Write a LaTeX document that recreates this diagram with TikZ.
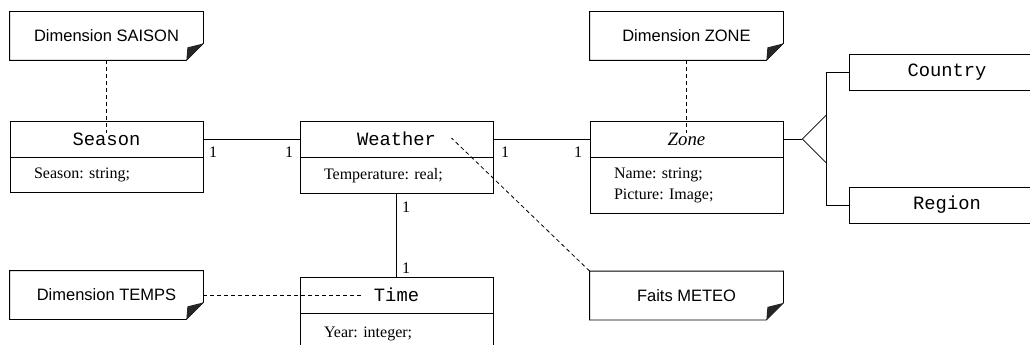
\documentclass[tikz,border=0pt]{standalone}
\usepackage{fontspec}
\setmainfont{Liberation Serif}
\newfontfamily\monof{Liberation Mono}
\newfontfamily\sansf{Liberation Sans}
\frenchspacing
\begin{document}
\begin{tikzpicture}[x=1pt,y=-1pt,
  line width=0.8pt,
  classhead/.style={draw, minimum width=193pt, minimum height=36pt, inner sep=0pt,
    font=\monof\fontsize{18.8}{22}\selectfont},
  classbody/.style={draw, text width=145pt, inner xsep=24pt, inner ysep=0pt, align=left,
    font=\frenchspacing\fontsize{16}{21}\selectfont},
  notebox/.style={minimum width=193pt, minimum height=48pt, inner sep=0pt,
    font=\sansf\fontsize{16.5}{20}\selectfont},
  lbl/.style={inner sep=0pt, font=\fontsize{16}{18}\selectfont},
  dsh/.style={dash pattern=on 4pt off 3pt}
]
\useasboundingbox (0,0) rectangle (1030,345);
% notes
\node[notebox] (saison) at (106.5,36) {Dimension SAISON};
\node[notebox] (zonenote) at (686.5,36) {Dimension ZONE};
\node[notebox] (temps) at (106.5,295) {Dimension TEMPS};
\node[notebox] (faits) at (686.5,295.5) {Faits METEO};
\foreach \n in {saison,zonenote,temps,faits}{
  \draw (\n.north west) -- (\n.north east) -- ([yshift=17pt]\n.south east)
     -- ([xshift=-17pt]\n.south east) -- (\n.south west) -- cycle;
  \fill[black!85] ([xshift=-17pt]\n.south east) -- ([yshift=17pt]\n.south east)
     -- ([xshift=-16pt,yshift=13pt]\n.south east) -- cycle;
}
% classes
\node[classhead] (season) at (106.5,139) {Season};
\node[classbody, minimum height=35pt, anchor=north] (seasonb) at (season.south) {Season: string;};
\node[classhead] (weather) at (396.5,139) {Weather};
\node[classbody, minimum height=36pt, anchor=north] (weatherb) at (weather.south) {Temperature: real;};
\node[classhead, font=\itshape\fontsize{18.8}{22}\selectfont] (zone) at (686.5,139) {Zone};
\node[classbody, minimum height=56pt, anchor=north] (zoneb) at (zone.south) {Name: string;\\Picture: Image;};
\node[classhead] (time) at (396.5,295) {Time};
\node[classbody, minimum height=40pt, anchor=north] (timeb) at (time.south) {Year: integer;};
\node[classhead, minimum width=196pt] (country) at (947,72) {Country};
\node[classhead, minimum width=196pt] (region) at (947,205) {Region};
% associations
\draw (season.east) -- (weather.west);
\draw (weather.east) -- (zone.west);
\draw (weatherb.south) -- (time.north);
\node[lbl] (l1) at (213,152) {1};
\node[lbl] (l2) at (289,152) {1};
\node[lbl] (l3) at (505,152) {1};
\node[lbl] (l4) at (578,152) {1};
\node[lbl] (l5) at (406,207) {1};
\node[lbl] (l6) at (406,268) {1};
% dashed note links
\draw[dsh] (saison.south) -- ([yshift=6pt]season.center);
\draw[dsh] (zonenote.south) -- ([yshift=6pt]zone.center);
\draw[dsh] (temps.east) -- ([xshift=-33pt]time.center);
\draw[dsh] (faits.north west) -- ([xshift=55pt,yshift=1pt]weather.center);
% generalization
\coordinate (genapex) at ([xshift=19pt]zone.east);
\coordinate (genbase) at ([xshift=43pt]zone.east);
\draw (zone.east) -- (genapex);
\draw[line join=miter] (genapex) -- ([yshift=24pt]genbase) -- ([yshift=-24pt]genbase) -- cycle;
\draw ([yshift=24pt]genbase) |- (country.west);
\draw ([yshift=-24pt]genbase) |- (region.west);
\end{tikzpicture}
\end{document}
